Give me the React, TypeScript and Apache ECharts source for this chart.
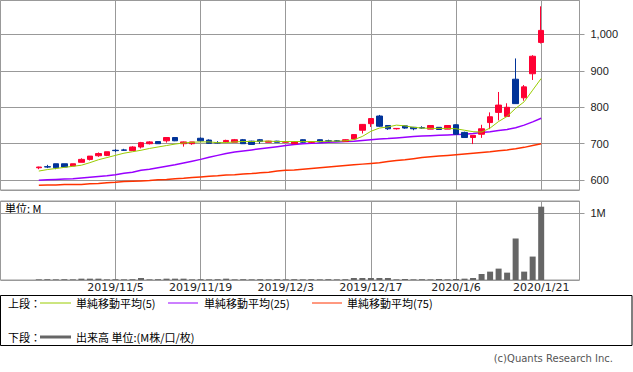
import React, { useEffect, useRef } from 'react';
import * as echarts from 'echarts';

const dates = [
  '2019/10/21', '2019/10/23', '2019/10/24', '2019/10/25', '2019/10/28', '2019/10/29', '2019/10/30', '2019/10/31', '2019/11/1', '2019/11/5',
  '2019/11/6', '2019/11/7', '2019/11/8', '2019/11/11', '2019/11/12', '2019/11/13', '2019/11/14', '2019/11/15', '2019/11/18', '2019/11/19',
  '2019/11/20', '2019/11/21', '2019/11/22', '2019/11/25', '2019/11/26', '2019/11/27', '2019/11/28', '2019/11/29', '2019/12/2', '2019/12/3',
  '2019/12/4', '2019/12/5', '2019/12/6', '2019/12/9', '2019/12/10', '2019/12/11', '2019/12/12', '2019/12/13', '2019/12/16', '2019/12/17',
  '2019/12/18', '2019/12/19', '2019/12/20', '2019/12/23', '2019/12/24', '2019/12/25', '2019/12/26', '2019/12/27', '2019/12/30', '2020/1/6',
  '2020/1/7', '2020/1/8', '2020/1/9', '2020/1/10', '2020/1/14', '2020/1/15', '2020/1/16', '2020/1/17', '2020/1/20', '2020/1/21',
];

const opens = [
  634, 637, 645, 645, 639, 649, 657, 667, 668, 682,
  683, 681, 691, 700, 706, 708, 717, 700, 700, 715,
  710, 703, 705, 704, 711, 707, 711, 704, 707, 704,
  700, 711, 704, 711, 708, 708, 706, 713, 737, 755,
  776, 750, 741, 749, 745, 744, 740, 745, 740, 752,
  731, 717, 726, 758, 786, 775, 877, 826, 892, 978,
];
const closes = [
  636, 636, 634, 636, 645, 657, 666, 673, 678, 681,
  682, 691, 703, 705, 700, 717, 708, 705, 705, 708,
  701, 702, 709, 711, 700, 698, 706, 707, 704, 706,
  706, 704, 705, 705, 707, 707, 711, 725, 753, 769,
  748, 741, 742, 743, 741, 743, 750, 739, 750, 726,
  717, 723, 741, 774, 806, 800, 810, 856, 940, 1011,
];
const lows = [
  630, 633, 630, 636, 639, 649, 654, 664, 666, 677,
  680, 681, 687, 698, 700, 703, 707, 692, 697, 706,
  700, 701, 703, 704, 700, 697, 700, 704, 704, 703,
  699, 703, 702, 704, 705, 705, 705, 712, 728, 746,
  746, 738, 739, 741, 737, 741, 740, 738, 740, 725,
  717, 699, 716, 740, 764, 774, 810, 818, 875, 975,
];
const highs = [
  637, 642, 645, 645, 645, 660, 666, 676, 678, 685,
  686, 693, 705, 707, 707, 718, 717, 706, 705, 717,
  712, 707, 711, 713, 713, 708, 713, 708, 708, 707,
  707, 712, 706, 712, 711, 710, 712, 726, 754, 770,
  779, 751, 743, 750, 746, 748, 750, 745, 750, 753,
  733, 723, 752, 786, 842, 811, 934, 861, 943, 1077,
];

const ma5 = [
  625, 629, 632, 635, 638, 641, 648, 656, 662, 668,
  674, 678, 682, 687, 691, 695, 699, 702, 704, 705,
  705, 703, 703, 705, 706, 706, 707, 707, 706, 706,
  706, 706, 706, 706, 707, 707, 708, 711, 720, 734,
  743, 746, 751, 749, 745, 743, 742, 742, 742, 741,
  737, 733, 732, 743, 761, 775, 797, 815, 847, 879,
];
const ma25 = [
  600, 601, 602, 603, 604, 606, 608, 610, 612, 615,
  619, 622, 627, 630, 634, 638, 642, 647, 652, 657,
  663, 668, 673, 677, 680, 683, 686, 689, 692, 695,
  698, 700, 701, 702, 704, 705, 706, 707, 709, 711,
  713, 714, 716, 718, 720, 721, 722, 723, 724, 725,
  726, 728, 731, 733, 736, 739, 744, 751, 760, 770,
];
const ma75 = [
  586, 587, 587, 588, 588, 588, 590, 591, 593, 594,
  596, 597, 598, 599, 601, 602, 604, 605, 607, 609,
  611, 612, 614, 615, 617, 618, 620, 622, 625, 627,
  628, 630, 632, 634, 636, 638, 640, 642, 644, 646,
  648, 651, 654, 656, 659, 662, 664, 666, 668, 670,
  672, 674, 676, 678, 681, 683, 686, 690, 695, 700,
];

// volume in millions of shares
const volumes = [
  0.01, 0.012, 0.01, 0.012, 0.01, 0.02, 0.02, 0.02, 0.01, 0.012,
  0.01, 0.012, 0.03, 0.01, 0.012, 0.02, 0.02, 0.02, 0.01, 0.012,
  0.01, 0.012, 0.02, 0.01, 0.012, 0.01, 0.012, 0.01, 0.012, 0.01,
  0.012, 0.01, 0.012, 0.01, 0.012, 0.01, 0.012, 0.03, 0.03, 0.03,
  0.03, 0.03, 0.01, 0.015, 0.01, 0.012, 0.01, 0.015, 0.01, 0.015,
  0.02, 0.03, 0.09, 0.125, 0.17, 0.11, 0.62, 0.125, 0.35, 1.095,
];

const tickDates = ['2019/11/5', '2019/11/19', '2019/12/3', '2019/12/17', '2020/1/6', '2020/1/21'];

const legendTop = '上段：';
const legendBottom = '下段：';
const maNames = ['単純移動平均(5)', '単純移動平均(25)', '単純移動平均(75)'];
const volName = '出来高 単位:(M株/口/枚)';
const unitLabel = '単位: M';
const copyright = '(c)Quants Research Inc.';

const UP = '#ff0033';
const DOWN = '#003399';
const C5 = '#99cc00';
const C25 = '#9900ff';
const C75 = '#ff3300';
const GRID = '#999999';
const JP = '"Noto Sans CJK JP", "DejaVu Sans", sans-serif';

export default function App() {
  const ref = useRef<HTMLDivElement>(null);
  useEffect(() => {
    const chart = echarts.init(ref.current!, null, { renderer: 'svg' });
    const pre = [' ', '  ', '   ', '    '];
    const post = ['     ', '      ', '       ', '        '];
    const cats = [...pre, ...dates, ...post];
    const isTick = (_i: number, v: string) => tickDates.indexOf(v) >= 0;

    const candleData = dates.map((d, i) => [d, opens[i], closes[i], lows[i], highs[i]]);
    const line = (arr: number[]) => dates.map((d, i) => [d, arr[i]]);
    const volData = dates.map((d, i) => [d, volumes[i]]);

    const xBase = {
      type: 'category' as const,
      data: cats,
      boundaryGap: true,
      axisLine: { show: false },
      axisTick: { show: false },
      splitLine: { show: true, interval: isTick, alignWithLabel: true, lineStyle: { color: GRID, width: 1 } },
    };

    const legendY1 = 303;
    const legendY2 = 337;
    const txt = (x: number, y: number, text: string, extra: any = {}) => ({
      type: 'text', x, y,
      style: { text, fill: '#000', font: `11px ${JP}`, verticalAlign: 'middle', ...extra },
    });
    const seg = (x1: number, x2: number, y: number, color: string, w: number) => ({
      type: 'line', shape: { x1, y1: y, x2, y2: y }, style: { stroke: color, lineWidth: w },
    });

    chart.setOption({
      animation: false,
      backgroundColor: '#fff',
      grid: [
        { left: 0.5, top: 0.5, width: 579, height: 189.5, show: true, borderColor: GRID, borderWidth: 1, backgroundColor: 'transparent' },
        { left: 0.5, top: 201, width: 579, height: 79, show: true, borderColor: GRID, borderWidth: 1, backgroundColor: 'transparent' },
      ],
      xAxis: [
        { ...xBase, gridIndex: 0, axisLabel: { show: false } },
        {
          ...xBase, gridIndex: 1,
          axisLabel: { show: true, interval: isTick, margin: 2, fontSize: 11, fontFamily: 'DejaVu Sans', color: '#222' },
        },
      ],
      yAxis: [
        {
          type: 'value', gridIndex: 0, position: 'right', min: 573, max: 1093, splitNumber: 5, scale: true,
          axisLine: { show: false },
          axisTick: { show: true, length: 5, lineStyle: { color: GRID } },
          splitLine: { show: true, lineStyle: { color: GRID, width: 1 } },
          axisLabel: {
            show: true, margin: 11, fontSize: 11, fontFamily: 'Liberation Sans', color: '#222',
            showMinLabel: false, showMaxLabel: false,
            formatter: (v: number) => (v % 100 === 0 ? v.toLocaleString('en-US') : ''),
          },
        },
        {
          type: 'value', gridIndex: 1, position: 'right', min: 0, max: 1.18, interval: 1,
          axisLine: { show: false },
          axisTick: { show: true, length: 5, lineStyle: { color: GRID } },
          splitLine: { show: true, lineStyle: { color: GRID, width: 1 } },
          axisLabel: {
            show: true, margin: 11, fontSize: 11, fontFamily: 'Liberation Sans', color: '#222',
            showMinLabel: false, showMaxLabel: false,
            formatter: (v: number) => (v === 1 ? '1M' : ''),
          },
        },
      ],
      series: [
        {
          type: 'line', xAxisIndex: 0, yAxisIndex: 0, data: line(ma75), showSymbol: false, symbol: 'none',
          lineStyle: { color: C75, width: 1.5 }, z: 3,
        },
        {
          type: 'line', xAxisIndex: 0, yAxisIndex: 0, data: line(ma25), showSymbol: false, symbol: 'none',
          lineStyle: { color: C25, width: 1.5 }, z: 3,
        },
        {
          type: 'candlestick', xAxisIndex: 0, yAxisIndex: 0, data: candleData,
          encode: { x: 0, y: [1, 2, 3, 4] }, barWidth: 6,
          itemStyle: { color: UP, color0: DOWN, borderColor: UP, borderColor0: DOWN, borderWidth: 1 },
          z: 4,
        },
        {
          type: 'line', xAxisIndex: 0, yAxisIndex: 0, data: line(ma5), showSymbol: false, symbol: 'none',
          lineStyle: { color: C5, width: 1 }, z: 5,
        },
        {
          type: 'bar', xAxisIndex: 1, yAxisIndex: 1, data: volData, barWidth: 6,
          itemStyle: { color: '#666666' },
        },
      ],
      graphic: [
        txt(5, 208, unitLabel),
        { type: 'rect', shape: { x: 0.5, y: 295.5, width: 631.5, height: 50 }, style: { fill: '#fff', stroke: '#000', lineWidth: 1 } },
        txt(8, legendY1, legendTop),
        seg(40, 71, legendY1, C5, 1),
        txt(76, legendY1, maNames[0]),
        seg(168, 198, legendY1, C25, 1),
        txt(204, legendY1, maNames[1]),
        seg(312, 342, legendY1, C75, 1),
        txt(347, legendY1, maNames[2]),
        txt(8, legendY2, legendBottom),
        seg(40, 71, legendY2, '#666666', 3),
        txt(76, legendY2, volName),
        txt(613, 358, copyright, { textAlign: 'right', fill: '#555', font: '10px "DejaVu Sans", sans-serif' }),
      ],
    });
    return () => chart.dispose();
  }, []);
  return <div ref={ref} style={{ position: 'absolute', left: 0, top: 0, width: 633, height: 372 }} />;
}
